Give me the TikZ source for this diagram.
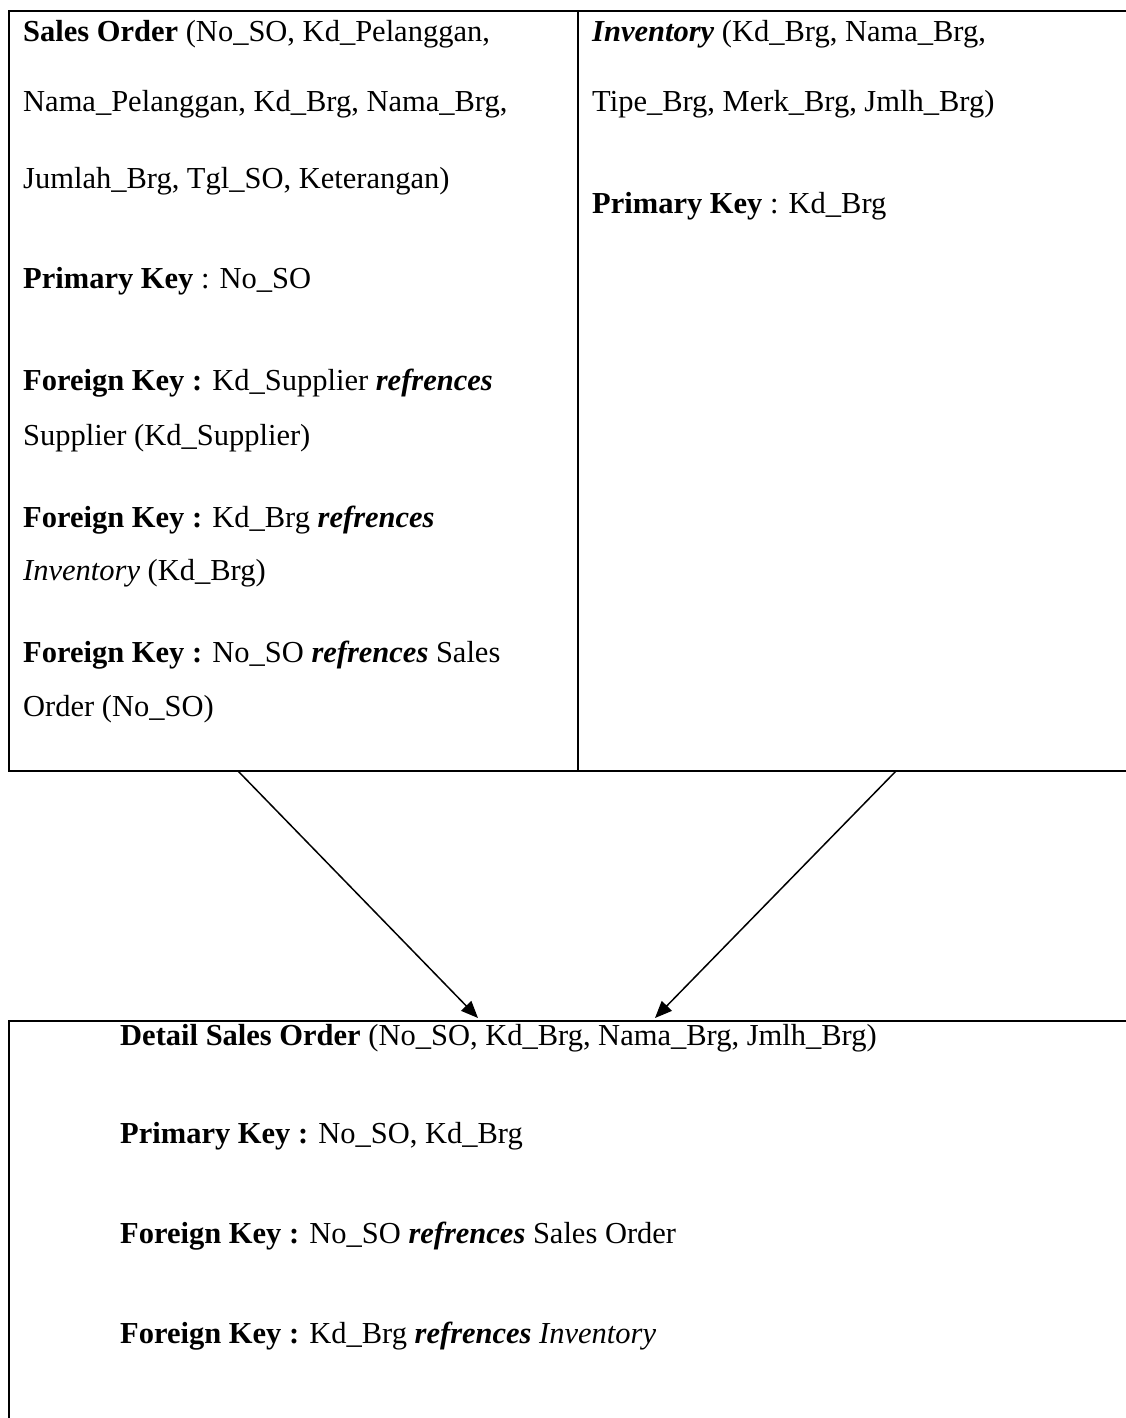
\documentclass[tikz,border=0pt]{standalone}
\usepackage{fontspec}
\setmainfont{Liberation Serif}
\usetikzlibrary{arrows.meta}
\newcommand{\hurufTabel}{\fontsize{30.5}{36}\selectfont}
\begin{document}
\begin{tikzpicture}[x=1pt,y=-1pt,
		every node/.style={anchor=base west, inner sep=0pt, font=\hurufTabel},
		garis/.style={black, line width=1.8pt},
		panah/.style={black, line width=1.5pt, -{Triangle[length=17pt,width=14pt]}}]
				\useasboundingbox (0,0) rectangle (1125,1418);
				\draw[garis] (1130,11) -- (9,11) -- (9,771) -- (1130,771);
				\draw[garis] (578,11) -- (578,771);
				\draw[garis] (1130,1021) -- (9,1021) -- (9,1425);
				\node (so1) at (23,42) {\textbf{Sales Order} (No\_SO, Kd\_Pelanggan,};
				\node (so2) at (23,112) {Nama\_Pelanggan, Kd\_Brg, Nama\_Brg,};
				\node (so3) at (23,188) {Jumlah\_Brg, Tgl\_SO, Keterangan)};
				\node (soPK) at (23,288) {\textbf{Primary Key} : No\_SO};
				\node (soFK1) at (23,390) {\textbf{Foreign Key :} Kd\_Supplier \textbf{\textit{refrences}}};
				\node (soFK1b) at (23,445) {Supplier (Kd\_Supplier)};
				\node (soFK2) at (23,527) {\textbf{Foreign Key :} Kd\_Brg \textbf{\textit{refrences}}};
				\node (soFK2b) at (23,580) {\textit{Inventory} (Kd\_Brg)};
				\node (soFK3) at (23,662) {\textbf{Foreign Key :} No\_SO \textbf{\textit{refrences}} Sales};
				\node (soFK3b) at (23,716) {Order (No\_SO)};
				\node (inv1) at (592,42) {\textbf{\textit{Inventory}} (Kd\_Brg, Nama\_Brg,};
				\node (inv2) at (592,112) {Tipe\_Brg, Merk\_Brg, Jmlh\_Brg)};
				\node (invPK) at (592,213) {\textbf{Primary Key} : Kd\_Brg};
				\node (dso1) at (120,1045) {\textbf{Detail Sales Order} (No\_SO, Kd\_Brg, Nama\_Brg, Jmlh\_Brg)};
				\node (dsoPK) at (120,1143) {\textbf{Primary Key :} No\_SO, Kd\_Brg};
				\node (dsoFK1) at (120,1243) {\textbf{Foreign Key :} No\_SO \textbf{\textit{refrences}} Sales Order};
				\node (dsoFK2) at (120,1343) {\textbf{Foreign Key :} Kd\_Brg \textbf{\textit{refrences}} \textit{Inventory}};
				\coordinate (soBawah) at (238,771);
				\coordinate (invBawah) at (896,771);
				\coordinate (dsoKiri) at (478,1018);
				\coordinate (dsoKanan) at (655,1018);
				\draw[panah] (soBawah) -- (dsoKiri);
				\draw[panah] (invBawah) -- (dsoKanan);
			\end{tikzpicture}
\end{document}
